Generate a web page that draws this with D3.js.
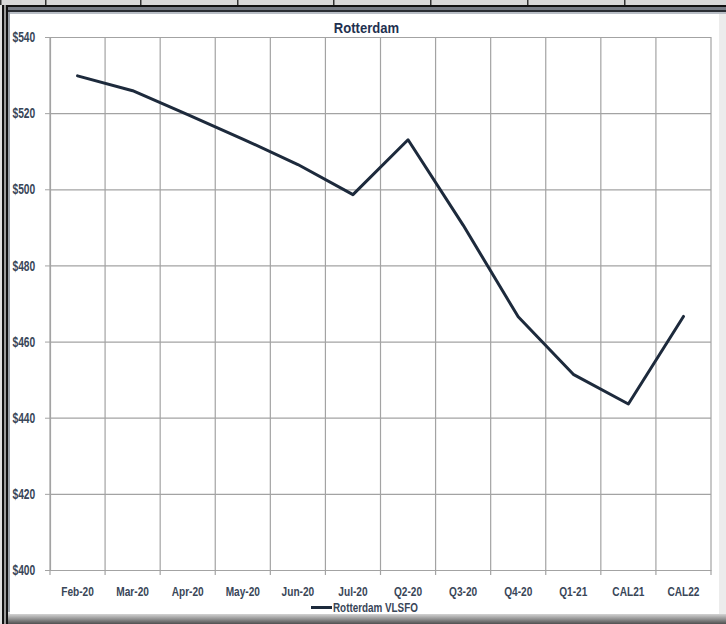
<!DOCTYPE html>
<html>
<head>
<meta charset="utf-8">
<script src="https://cdn.jsdelivr.net/npm/d3@7"></script>
<style>
  html, body { margin: 0; padding: 0; background: #cfcfcf; }
  svg { display: block; }
  text { font-family: "Liberation Sans", Arial, sans-serif; }
</style>
</head>
<body>
<script>
// Forward curve, Rotterdam VLSFO ($/mt)
const categories = ["Feb-20", "Mar-20", "Apr-20", "May-20", "Jun-20", "Jul-20",
                    "Q2-20", "Q3-20", "Q4-20", "Q1-21", "CAL21", "CAL22"];
const vlsfo = [529.8, 525.9, 519.6, 513.2, 506.5, 498.6, 513.0, 490.6, 466.5, 451.4, 443.6, 466.6];
const yTicks = [400, 420, 440, 460, 480, 500, 520, 540];
const seriesName = "Rotterdam VLSFO";
const title = "Rotterdam";

const W = 726, H = 624;
const svg = d3.select("body").append("svg").attr("width", W).attr("height", H);

// Narrow the glyphs of a text selection to give a condensed face
function condense(sel, factor) {
  sel.each(function () {
    const len = this.getComputedTextLength();
    d3.select(this).attr("textLength", len * factor).attr("lengthAdjust", "spacingAndGlyphs");
  });
}

// Window chrome around the chart panel
const defs = svg.append("defs");
const gb = defs.append("linearGradient").attr("id", "bottomShade").attr("x1", 0).attr("y1", 0).attr("x2", 0).attr("y2", 1);
gb.append("stop").attr("offset", "0%").attr("stop-color", "#ededed");
gb.append("stop").attr("offset", "50%").attr("stop-color", "#a0a0a0");
gb.append("stop").attr("offset", "100%").attr("stop-color", "#505050");

svg.append("rect").attr("width", W).attr("height", H).attr("fill", "#d4d4d4");
// header row of cells
svg.append("rect").attr("x", 0).attr("y", 0).attr("width", W).attr("height", 5).attr("fill", "#d8d8d8");
[0, 45, 140, 237, 333, 430, 527, 624].forEach(px =>
  svg.append("rect").attr("x", px).attr("y", 0).attr("width", 1.5).attr("height", 5).attr("fill", "#333"));
svg.append("rect").attr("x", 0).attr("y", 5).attr("width", W).attr("height", 2).attr("fill", "#111");
svg.append("rect").attr("x", 0).attr("y", 7).attr("width", W).attr("height", 3).attr("fill", "#767b84");
svg.append("rect").attr("x", 0).attr("y", 10).attr("width", W).attr("height", 2).attr("fill", "#2a2d33");
svg.append("rect").attr("x", 0).attr("y", 12).attr("width", W).attr("height", 2).attr("fill", "#b9bec6");
// left double rule
svg.append("rect").attr("x", 0).attr("y", 5).attr("width", 2).attr("height", H).attr("fill", "#e2e2e2");
svg.append("rect").attr("x", 2).attr("y", 5).attr("width", 2).attr("height", H).attr("fill", "#111");
svg.append("rect").attr("x", 4).attr("y", 5).attr("width", 2).attr("height", H).attr("fill", "#9a9a9a");
svg.append("rect").attr("x", 6).attr("y", 5).attr("width", 2).attr("height", H).attr("fill", "#111");
svg.append("rect").attr("x", 8).attr("y", 12).attr("width", 2).attr("height", H).attr("fill", "#9aa0a8");
// bottom shading
svg.append("rect").attr("x", 8).attr("y", 612).attr("width", W).attr("height", 12).attr("fill", "url(#bottomShade)");
// white chart panel
svg.append("rect").attr("x", 10).attr("y", 14).attr("width", 709).attr("height", 600).attr("fill", "#ffffff");
svg.append("rect").attr("x", 719).attr("y", 14).attr("width", 7).attr("height", 600).attr("fill", "#ececec");

// Plot area
const plotL = 50, plotR = 711, plotT = 37, plotB = 570;
const x = d3.scaleBand().domain(categories).range([plotL, plotR]).padding(0);
const y = d3.scaleLinear().domain([400, 540]).range([plotB, plotT]);

const gridColor = "#a3a3a3";
const labelColor = "#394658";
const g = svg.append("g");

// horizontal gridlines
g.append("g").attr("transform", `translate(${plotL},0)`)
  .call(d3.axisLeft(y).tickValues(yTicks).tickSize(-(plotR - plotL)).tickFormat(""))
  .call(s => s.select(".domain").remove())
  .call(s => s.selectAll("line").attr("stroke", gridColor).attr("stroke-width", 1.2));

// vertical gridlines at category boundaries
const bounds = categories.map(c => x(c)).concat([plotR]);
g.append("g").selectAll("line").data(bounds).join("line")
  .attr("x1", d => d).attr("x2", d => d)
  .attr("y1", plotT).attr("y2", plotB + 5)
  .attr("stroke", gridColor).attr("stroke-width", 1.2);

// y-axis tick labels and marks
const yAxis = g.append("g").attr("transform", `translate(${plotL},0)`)
  .call(d3.axisLeft(y).tickValues(yTicks).tickSize(5).tickPadding(4).tickFormat(d => "$" + d));
yAxis.select(".domain").attr("stroke", gridColor).attr("stroke-width", 1.2);
yAxis.selectAll("line").attr("stroke", gridColor);
yAxis.selectAll("text")
  .attr("font-size", 14).attr("font-weight", "bold").attr("fill", labelColor)
  .attr("text-anchor", "start").attr("x", -37.5).attr("dy", "0.33em")
  .call(condense, 0.73);

// x-axis labels
const xAxis = g.append("g").attr("transform", `translate(0,${plotB})`)
  .call(d3.axisBottom(x).tickSize(0).tickPadding(16.5));
xAxis.select(".domain").attr("stroke", gridColor).attr("stroke-width", 1.2);
xAxis.selectAll("text")
  .attr("font-size", 13.5).attr("font-weight", "bold").attr("fill", labelColor)
  .call(condense, 0.75);

// the series line
const line = d3.line()
  .x((d, i) => x(categories[i]) + x.bandwidth() / 2)
  .y(d => y(d));
svg.append("path").datum(vlsfo)
  .attr("d", line)
  .attr("fill", "none")
  .attr("stroke", "#1d2a3c")
  .attr("stroke-width", 3)
  .attr("stroke-linejoin", "round")
  .attr("stroke-linecap", "round");

// title
svg.append("text")
  .attr("x", 366.5).attr("y", 33)
  .attr("text-anchor", "middle")
  .attr("font-size", 15).attr("font-weight", "bold")
  .attr("fill", "#1f3150")
  .text(title)
  .call(condense, 0.87);

// legend
const lg = svg.append("g").attr("transform", "translate(311,611.5)");
lg.append("line").attr("x1", 0).attr("x2", 21).attr("y1", -4).attr("y2", -4)
  .attr("stroke", "#1d2a3c").attr("stroke-width", 3);
lg.append("text").attr("x", 22).attr("y", 0)
  .attr("font-size", 13.5).attr("font-weight", "bold").attr("fill", labelColor)
  .text(seriesName)
  .call(condense, 0.73);
</script>
</body>
</html>
